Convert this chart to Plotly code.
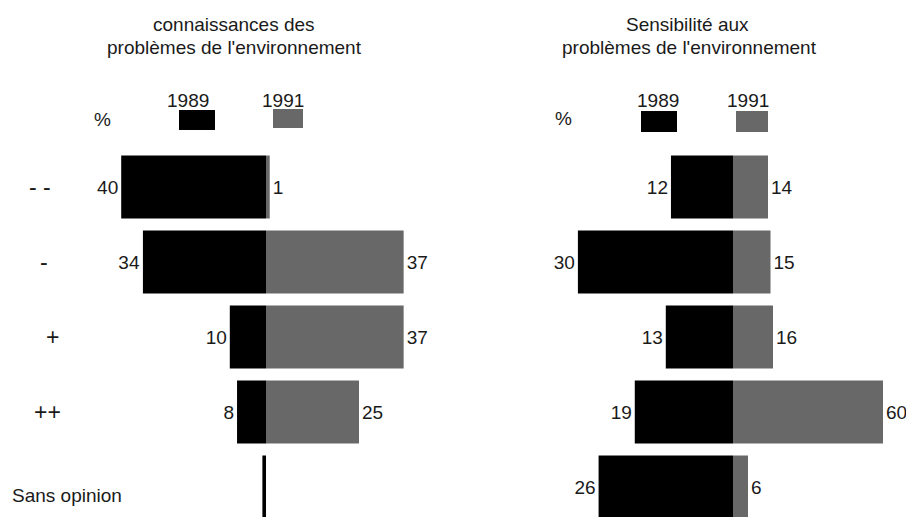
import plotly.graph_objs as go

# rows, top to bottom
categories = ['- -', '-', '+', '++', 'Sans opinion']

# connaissances des problèmes de l'environnement (%)
know_1989 = [40, 34, 10, 8, 1]
know_1991 = [1, 37, 37, 25, 0]
know_1989_txt = ['40', '34', '10', '8', '']
know_1991_txt = ['1', '37', '37', '25', '']

# sensibilité aux problèmes de l'environnement (%)
sens_1989 = [12, 30, 13, 19, 26]
sens_1991 = [14, 15, 16, 60, 6]

years = ['1989', '1991']

W, H = 906, 517
BLACK = '#000000'
GREY = '#686868'
TXT = '#1a1a1a'
FONT = 'Arial, Liberation Sans, sans-serif'

def px(x):
    return x / W

def py(y):
    return 1 - y / H

def bar(vals, txt, color, xa):
    return go.Bar(y=categories, x=vals, orientation='h', xaxis=xa, yaxis='y',
                  marker=dict(color=color, line=dict(width=0)), width=0.84,
                  text=txt, textposition='outside', cliponaxis=False,
                  constraintext='none',
                  textfont=dict(family=FONT, size=19, color=TXT),
                  hoverinfo='skip')

data = [
    bar(know_1989, know_1989_txt, BLACK, 'x'),
    bar(know_1991, know_1991_txt, GREY, 'x2'),
    bar(sens_1989, [str(v) for v in sens_1989], BLACK, 'x3'),
    bar(sens_1991, [str(v) for v in sens_1991], GREY, 'x4'),
]

hidden = dict(visible=False, fixedrange=True)
layout = go.Layout(
    width=W, height=H, margin=dict(l=0, r=0, t=0, b=0),
    paper_bgcolor='white', plot_bgcolor='white', showlegend=False,
    font=dict(family=FONT, size=19, color=TXT),
    # each half has its own scale, centre lines at x=266 and x=733
    xaxis=dict(domain=[0, px(266)], range=[266 / 3.62, 0], anchor='y', **hidden),
    xaxis2=dict(domain=[px(266), px(453)], range=[0, 187 / 3.72], anchor='y', **hidden),
    xaxis3=dict(domain=[px(453), px(733)], range=[280 / 5.17, 0], anchor='y', **hidden),
    xaxis4=dict(domain=[px(733), 1], range=[0, 173 / 2.5], anchor='y', **hidden),
    yaxis=dict(domain=[0, 1], type='category', categoryarray=categories,
               range=[330 / 75, -187 / 75], **hidden),
)

ann = []
def label(text, x, y, xanchor='center', size=19):
    ann.append(dict(text=text, x=x, y=y, xref='paper', yref='paper',
                    xanchor=xanchor, yanchor='middle', showarrow=False,
                    font=dict(family=FONT, size=size, color=TXT)))

# titles
label('connaissances des', px(234), py(24))
label("problèmes de l'environnement", px(234), py(47))
label('Sensibilité aux', px(687), py(24))
label("problèmes de l'environnement", px(689), py(47))

# legend texts
label('%', px(102), py(120))
label(years[0], px(188), py(100))
label(years[1], px(283), py(100))
label('%', px(563), py(118))
label(years[0], px(658), py(100))
label(years[1], px(748), py(100))

# row labels
row_x = [40, 44, 52, 47]
for cat, x in zip(categories[:4], row_x):
    ann.append(dict(text=cat, x=px(x), y=cat, xref='paper', yref='y',
                    xanchor='center', yanchor='middle', showarrow=False,
                    font=dict(family=FONT, size=23, color=TXT)))
ann.append(dict(text=categories[4], x=px(10), y=categories[4], xref='paper', yref='y',
                xanchor='left', yanchor='middle', yshift=-8, showarrow=False,
                font=dict(family=FONT, size=19, color=TXT)))

# legend swatches
shapes = []
for x0, x1, y0, y1, c in [(179, 215, 110, 130, BLACK), (273, 303, 109, 128, GREY),
                          (641, 677, 111, 132, BLACK), (736, 768, 111, 132, GREY)]:
    shapes.append(dict(type='rect', xref='paper', yref='paper',
                       x0=px(x0), x1=px(x1), y0=py(y1), y1=py(y0),
                       fillcolor=c, line=dict(width=0)))

layout.update(annotations=ann, shapes=shapes)

fig = go.Figure(data=data, layout=layout)
# page body has a default 8px margin; drop it so the figure sits at the corner
fig.write_html("out.html", config={'displayModeBar': False},
               post_script="document.body.style.margin='0px';")
